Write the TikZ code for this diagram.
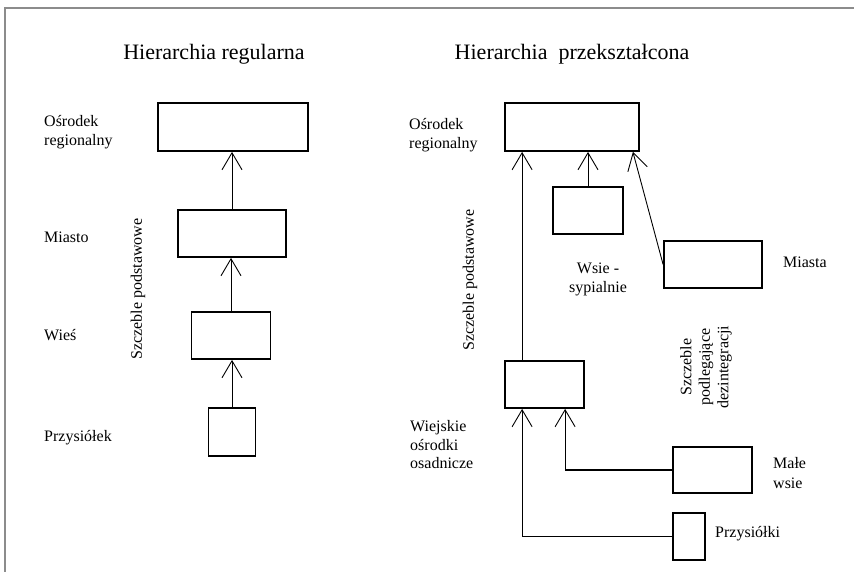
\documentclass[tikz,border=0pt]{standalone}
\usepackage{fontspec}
\setmainfont{Liberation Serif}
\usetikzlibrary{arrows.meta}

\begin{document}
\begin{tikzpicture}[x=1pt,y=-1pt,
  lbl/.style={font=\fontsize{16}{19}\selectfont, inner sep=0pt},
  ttl/.style={font=\fontsize{22}{26}\selectfont, inner sep=0pt},
  box/.style={draw, line width=1.8pt, inner sep=0pt},
  arr/.style={-{Straight Barb[length=17pt,width=20pt]}, line width=0.9pt}]
\useasboundingbox (0,0) rectangle (854,572);
\draw[black!45, line width=1.5pt] (854,8) -- (5,8) -- (5,572);

\node[ttl] (t1) at (214,54) {Hierarchia regularna};
\node[ttl] (t2) at (572,54) {Hierarchia\ \ przekształcona};

\node[box, minimum width=150pt, minimum height=48pt] (L1) at (233,127) {};
\node[box, minimum width=108pt, minimum height=47pt] (L2) at (232,233.5) {};
\node[box, minimum width=79pt, minimum height=47pt] (L3) at (231,335.5) {};
\node[box, minimum width=47pt, minimum height=48pt] (L4) at (232,432) {};
\draw[arr] (L2.north) -- (L2.north |- L1.south);
\draw[arr] (L3.north) -- (L3.north |- L2.south);
\draw[arr] (L4.north) -- (L4.north |- L3.south);

\node[lbl, anchor=west, align=left] (lo1) at (44,132) {Ośrodek\\ regionalny};
\node[lbl, anchor=west] (lm) at (44,237) {Miasto};
\node[lbl, anchor=west] (lw) at (44,335) {Wieś};
\node[lbl, anchor=west] (lp) at (44,438) {Przysiółek};
\node[lbl, rotate=90] (ls1) at (138,289) {Szczeble podstawowe};

\node[box, minimum width=134pt, minimum height=48pt] (R1) at (572,127) {};
\node[box, minimum width=70pt, minimum height=47pt] (R2) at (588,210.5) {};
\node[box, minimum width=98pt, minimum height=47pt] (R3) at (713,264.5) {};
\node[box, minimum width=79pt, minimum height=47pt] (R4) at (544.5,384.5) {};
\node[box, minimum width=79pt, minimum height=46pt] (R5) at (712.5,470) {};
\node[box, minimum width=32pt, minimum height=47pt] (R6) at (689,536.5) {};
\coordinate (k1) at ([xshift=18pt]R4.south west);
\coordinate (k2) at ([xshift=61pt]R4.south west);
\draw[arr] ([xshift=18pt]R4.north west) -- ([xshift=18pt]R1.south west);
\draw[arr] (R2.north) -- (R2.north |- R1.south);
\draw[arr] (R3.west) -- ([xshift=-7pt]R1.south east);
\draw[arr] (R6.west) -| (k1);
\draw[line width=2.2pt] (R5.west) -- (R5.west -| k2);
\draw[arr] (R5.west -| k2) -- (k2);

\node[lbl, anchor=west, align=left] (lo2) at (409,135) {Ośrodek\\ regionalny};
\node[lbl, align=center] (lws) at (598,279) {Wsie -\\sypialnie};
\node[lbl, anchor=west] (lms) at (783,262) {Miasta};
\node[lbl, rotate=90] (ls2) at (470,280) {Szczeble podstawowe};
\node[lbl, rotate=90, align=center, font=\fontsize{16}{18.5}\selectfont] (ls3) at (706,367) {Szczeble\\podlegające\\dezintegracji};
\node[lbl, anchor=west, align=left, font=\fontsize{16}{18.5}\selectfont] (lwo) at (410,445) {Wiejskie\\ośrodki\\ osadnicze};
\node[lbl, anchor=west, align=left, font=\fontsize{16}{20}\selectfont] (lmw) at (773,473) {Małe\\wsie};
\node[lbl, anchor=west] (lpk) at (715,534) {Przysiółki};
\end{tikzpicture}
\end{document}
